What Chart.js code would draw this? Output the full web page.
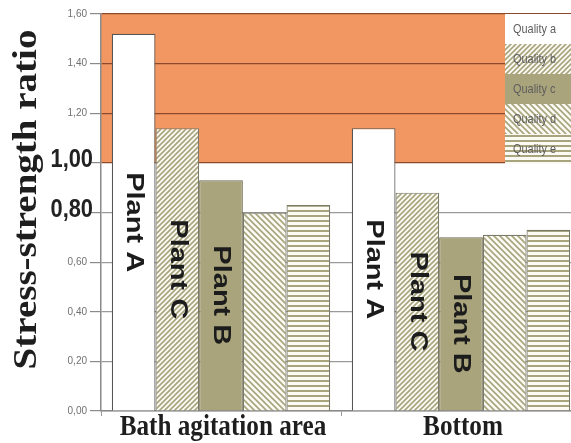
<!DOCTYPE html>
<html>
<head>
<meta charset="utf-8">
<script src="https://cdn.jsdelivr.net/npm/chart.js@4.4.1/dist/chart.umd.min.js"></script>
<style>
  html, body { margin: 0; padding: 0; background: #fff; overflow: hidden; }
  #wrap { width: 571px; height: 443px; overflow: hidden; position: relative; }
  canvas { display: block; }
</style>
</head>
<body>
<div id="wrap"><canvas id="c" width="581" height="443"></canvas></div>
<script>
// ---- data ----
const categories = ['Bath agitation area', 'Bottom'];
const seriesNames = ['Quality a', 'Quality b', 'Quality c', 'Quality d', 'Quality e'];
const qualityA = [1.52, 1.14];
const qualityB = [1.14, 0.88];
const qualityC = [0.93, 0.70];
const qualityD = [0.80, 0.71];
const qualityE = [0.83, 0.73];
const barLabels = ['Plant A', 'Plant C', 'Plant B', '', ''];
const yTickLabels = ['0,00', '0,20', '0,40', '0,60', '0,80', '1,00', '1,20', '1,40', '1,60'];
const emphasisTicks = ['0,80', '1,00'];
const yTitle = 'Stress-strength ratio';
const criticalFrom = 1.0;

// ---- styling ----
const OLIVE = '#a9a47b';
const STRIPE = '#a8a47e';
const BAND = 'rgb(242,151,98)';
const BAND_LINE = '#8c4a2c';
const GRID = '#9a9a9a';
const SQUISH = 0.84;

const canvas = document.getElementById('c');
const mainCtx = canvas.getContext('2d');

function makePattern(kind, size) {
  const t = document.createElement('canvas');
  t.width = size; t.height = size;
  const g = t.getContext('2d');
  g.fillStyle = '#fbfaf3';
  g.fillRect(0, 0, size, size);
  g.strokeStyle = STRIPE;
  g.fillStyle = STRIPE;
  g.lineWidth = 1.6;
  const s = size;
  if (kind === 'up') {
    g.beginPath();
    g.moveTo(-1, s + 1); g.lineTo(s + 1, -1);
    g.moveTo(-1, 1); g.lineTo(1, -1);
    g.moveTo(s - 1, s + 1); g.lineTo(s + 1, s - 1);
    g.stroke();
  } else if (kind === 'down') {
    g.beginPath();
    g.moveTo(-1, -1); g.lineTo(s + 1, s + 1);
    g.moveTo(s - 1, -1); g.lineTo(s + 1, 1);
    g.moveTo(-1, s - 1); g.lineTo(1, s + 1);
    g.stroke();
  } else {
    g.fillRect(0, 0, s, 2);
  }
  return mainCtx.createPattern(t, 'repeat');
}

const fills = ['#ffffff', makePattern('up', 5), OLIVE, makePattern('down', 6), makePattern('horiz', 5)];
const borders = ['#555555', '#7a7a6a', '#6e6a50', '#7a7a6a', '#7a7a6a'];
const seriesValues = [qualityA, qualityB, qualityC, qualityD, qualityE];

function squishedText(ctx, text, x, y, angle, font, color, align, baseline) {
  ctx.save();
  ctx.translate(x, y);
  ctx.scale(SQUISH, 1);
  ctx.rotate(angle);
  ctx.font = font;
  ctx.fillStyle = color;
  ctx.textAlign = align;
  ctx.textBaseline = baseline;
  ctx.fillText(text, 0, 0);
  ctx.restore();
}

const overlay = {
  id: 'overlay',
  beforeDraw(chart) {
    const { ctx, chartArea: a, scales: { y } } = chart;
    const top = y.getPixelForValue(y.max);
    const bot = y.getPixelForValue(criticalFrom);
    ctx.save();
    ctx.fillStyle = BAND;
    ctx.fillRect(a.left, top, a.right - a.left, bot - top);
    ctx.restore();
  },
  afterDatasetsDraw(chart) {
    const ctx = chart.ctx;
    chart.data.datasets.forEach((ds, di) => {
      const text = barLabels[di];
      if (!text) return;
      chart.getDatasetMeta(di).data.forEach(bar => {
        const cy = (bar.y + bar.base) / 2;
        ctx.save();
        ctx.translate(bar.x, cy);
        ctx.scale(0.85, 1);
        ctx.rotate(Math.PI / 2);
        ctx.font = 'bold 29px "Liberation Sans", Arial, sans-serif';
        ctx.fillStyle = '#1c1c1c';
        ctx.textAlign = 'center';
        ctx.textBaseline = 'middle';
        ctx.fillText(text, 0, 0);
        ctx.restore();
      });
    });
  },
  afterDraw(chart) {
    const { ctx, chartArea: a, scales: { x, y } } = chart;

    // legend block on the right of the band
    const left = a.right - 76;
    const rowH = 30;
    seriesNames.forEach((name, i) => {
      const top = a.top + i * rowH;
      ctx.save();
      ctx.fillStyle = fills[i];
      ctx.fillRect(left, top, a.right - left, rowH);
      ctx.restore();
      squishedText(ctx, name, left + 8, top + rowH / 2, 0,
        '13px "Liberation Sans", Arial, sans-serif', '#5e5e5e', 'left', 'middle');
    });

    // emphasised y tick labels
    y.ticks.forEach((t, i) => {
      const label = yTickLabels[i];
      if (!emphasisTicks.includes(label)) return;
      const py = y.getPixelForValue(t.value);
      squishedText(ctx, label, a.left - 8, py + 4, 0,
        'bold 26px "Liberation Sans", Arial, sans-serif', '#222222', 'right', 'alphabetic');
    });

    // category labels
    categories.forEach((c, i) => {
      squishedText(ctx, x.getLabelForValue(i), x.getPixelForValue(i) + 2, a.bottom + 24, 0,
        'bold 30px "Liberation Serif", "Times New Roman", serif', '#1e1e1e', 'center', 'alphabetic');
    });

    // y axis title
    squishedText(ctx, yTitle, 36, (a.top + a.bottom) / 2 - 13, -Math.PI / 2,
      'bold 39px "Liberation Serif", "Times New Roman", serif', '#1e1e1e', 'center', 'alphabetic');
  }
};

new Chart(canvas, {
  type: 'bar',
  data: {
    labels: categories,
    datasets: seriesNames.map((n, i) => ({
      label: n,
      data: seriesValues[i],
      backgroundColor: fills[i],
      borderColor: borders[i],
      borderWidth: 1.2,
      categoryPercentage: 0.91,
      barPercentage: 1.0
    }))
  },
  options: {
    responsive: false,
    animation: false,
    devicePixelRatio: 1,
    layout: { padding: { top: 14, left: 0, right: 0, bottom: 0 } },
    plugins: { legend: { display: false }, tooltip: { enabled: false } },
    scales: {
      x: {
        grid: { drawOnChartArea: false, tickLength: 5, color: '#9a9a9a', offset: true },
        border: { color: '#8a8a8a', width: 1.5 },
        ticks: { display: false },
        afterFit(s) { s.height = 32; }
      },
      y: {
        min: 0,
        max: 1.6,
        ticks: {
          stepSize: 0.2,
          padding: 3,
          color: '#707070',
          font: { family: '"Liberation Sans", Arial, sans-serif', size: 10 },
          callback(v, i) {
            const label = yTickLabels[i];
            return emphasisTicks.includes(label) ? '' : label;
          }
        },
        grid: {
          color: c => (c.tick && c.tick.value >= criticalFrom - 1e-9) ? BAND_LINE : GRID,
          lineWidth: 1.2,
          tickLength: 11,
          tickColor: '#8a8a8a'
        },
        border: { color: '#8a8a8a', width: 1.5 },
        afterFit(s) { s.width = 101; }
      }
    }
  },
  plugins: [overlay]
});
</script>
</body>
</html>
